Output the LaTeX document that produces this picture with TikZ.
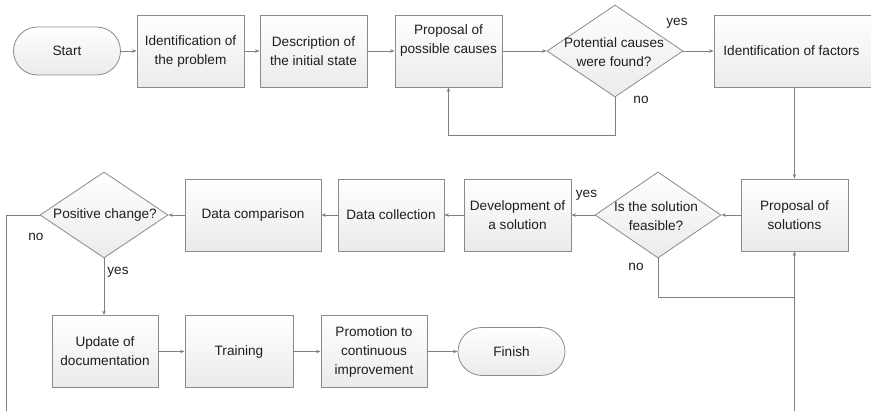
\documentclass[tikz,border=0pt]{standalone}
\usepackage{fontspec}
\setmainfont{Liberation Sans}
\usetikzlibrary{shapes.geometric,arrows.meta}

\definecolor{linegray}{HTML}{808080}
\definecolor{edgegray}{HTML}{8A8A8A}
\definecolor{inkgray}{HTML}{1E1E1E}

\tikzset{
  base/.style={draw=edgegray, line width=0.8pt, top color=white, bottom color=black!8,
               text=inkgray, align=center, inner sep=0pt},
  procbox/.style={base, rectangle, minimum width=#1, minimum height=72pt},
  procbox/.default=107pt,
  terminal/.style={base, rectangle, rounded corners=24pt, minimum width=107pt, minimum height=48pt},
  decision/.style={base, diamond, minimum width=#1, minimum height=86pt},
  dtext/.style={text=inkgray, align=center, inner sep=0pt},
  tag/.style={text=inkgray, inner sep=0pt},
  flow/.style={draw=linegray, line width=0.8pt, -{Stealth[length=4.5pt,width=3.5pt]}},
  plain/.style={draw=linegray, line width=0.8pt},
}

\begin{document}
\begin{tikzpicture}[x=1pt, y=-1pt,
  every node/.append style={font=\fontsize{13.6}{19}\selectfont}]
\useasboundingbox (0,0) rectangle (871,411);

% upper row
\node[terminal] (start) at (67,51) {Start};
\node[procbox] (idp) at (190.5,51) {Identification of\\the problem};
\node[procbox] (desc) at (313.5,51) {Description of\\the initial state};
\node[procbox] (ppc) at (448.5,51) {Proposal of\\possible causes\\\strut};
\node[decision=136pt, minimum height=92pt] (dec1) at (615,51) {};
\node[dtext] (dec1t) at (614,52) {Potential causes\\were found?};
\node[procbox=159pt] (idf) at (793.5,51) {\hspace*{-2pt}Identification of factors\hspace*{2pt}};

% middle row
\node[procbox] (pos) at (794.5,215) {Proposal of\\solutions};
\node[decision=126pt] (dec2) at (658,215) {};
\node[dtext] (dec2t) at (656,216) {Is the solution\\feasible?};
\node[procbox] (dev) at (517.5,215) {Development of\\a solution};
\node[procbox=106pt] (dcol) at (391,215) {Data collection};
\node[procbox=136pt] (dcmp) at (253,215) {Data comparison};
\node[decision=128pt] (dec3) at (104,215) {};
\node[dtext] (dec3t) at (105,215) {Positive change?};

% lower row
\node[procbox=106pt] (upd) at (105,351.5) {Update of\\documentation};
\node[procbox=108pt] (trn) at (239,351.5) {Training};
\node[procbox=106pt] (prm) at (374,351.5) {Promotion to\\continuous\\improvement};
\node[terminal] (fin) at (511.5,351.5) {Finish};

% branch labels
\node[tag] (y1) at (677,23) {yes};
\node[tag] (n1) at (641,100) {no};
\node[tag] (y2) at (586.5,195) {yes};
\node[tag] (n2) at (636,267) {no};
\node[tag] (n3) at (36,237) {no};
\node[tag] (y3) at (118,272) {yes};

% loose ends of the long return lines
\coordinate (leftend) at (6,412);
\coordinate (rightend) at (794.5,412);
\coordinate (loop1) at (615,135);
\coordinate (loop2) at (658,297);

% connectors, upper row
\draw[flow] (start.east) -- (idp.west);
\draw[flow] (idp.east) -- (desc.west);
\draw[flow] (desc.east) -- (ppc.west);
\draw[flow] (ppc.east) -- (dec1.west);
\draw[flow] (dec1.east) -- (idf.west);
\draw[flow] (dec1.south) -- (loop1) -| (ppc.south);
\draw[flow] (pos.north |- idf.south) -- (pos.north);

% connectors, middle row
\draw[flow] (pos.west) -- (dec2.east);
\draw[flow] (dec2.west) -- (dev.east);
\draw[flow] (dev.west) -- (dcol.east);
\draw[flow] (dcol.west) -- (dcmp.east);
\draw[flow] (dcmp.west) -- (dec3.east);
\draw[plain] (dec2.south) -- (loop2) -- (loop2 -| pos.south);
\draw[flow] (rightend) -- (pos.south);
\draw[plain] (dec3.west) -| (leftend);

% connectors, lower row
\draw[flow] (dec3.south) -- (dec3.south |- upd.north);
\draw[flow] (upd.east) -- (trn.west);
\draw[flow] (trn.east) -- (prm.west);
\draw[flow] (prm.east) -- (fin.west);
\end{tikzpicture}
\end{document}
